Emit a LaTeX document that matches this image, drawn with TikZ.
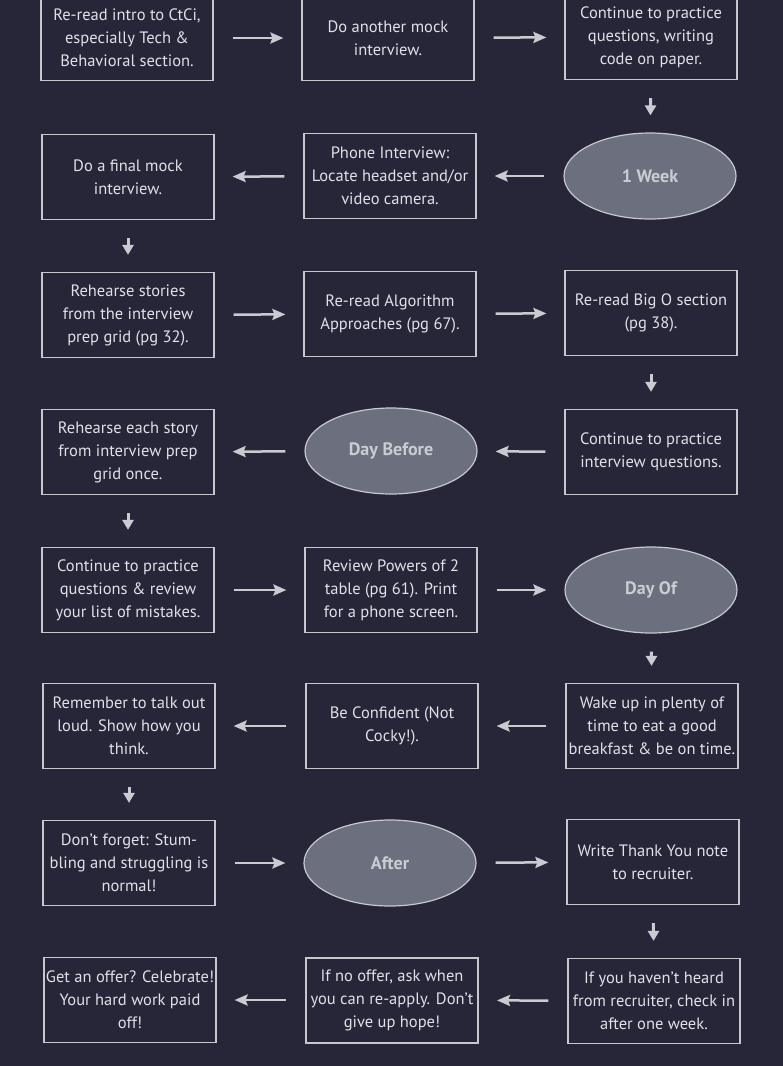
\documentclass[tikz,border=0pt]{standalone}
\usepackage{fontspec}
\setmainfont{PT Sans}
\usetikzlibrary{shapes.geometric,arrows.meta}
\definecolor{bg}{RGB}{38,38,56}
\definecolor{edge}{RGB}{196,201,206}
\definecolor{txt}{RGB}{222,226,230}
\definecolor{ellfill}{RGB}{108,112,126}
\definecolor{elltxt}{RGB}{200,205,210}
\definecolor{arr}{RGB}{200,204,208}
\tikzset{
  stepbox/.style={draw=edge, line width=1.2pt, rectangle, minimum width=172pt, minimum height=85pt, inner sep=0pt, align=center, text=txt, font=\fontsize{16.5}{23}\selectfont},
  phase/.style={draw=edge, line width=1.2pt, ellipse, fill=ellfill, minimum width=172pt, minimum height=86pt, inner sep=0pt, text=elltxt, font=\fontsize{18}{20}\selectfont\bfseries},
  harr/.style={draw=arr, line width=2.5pt, -{Stealth[length=13pt,width=11pt,inset=2pt]}, shorten <=19pt, shorten >=18pt},
  varr/.style={draw=arr, line width=3pt, -{Triangle[length=10pt,width=11pt]}, shorten <=18pt, shorten >=17pt}
}
\begin{document}
\begin{tikzpicture}[x=1pt,y=-1pt]
\useasboundingbox (0,0) rectangle (783,1066);
\fill[bg] (0,0) rectangle (783,1066);
% row 1
\node[stepbox] (a1) at (127,38) {Re-read intro to CtCi,\\especially Tech \&\\Behavioral section.};
\node[stepbox] (a2) at (388,38) {Do another mock\\interview.};
\node[stepbox] (a3) at (651,37) {Continue to practice\\questions, writing\\code on paper.};
% row 2
\node[stepbox] (b1) at (128,177) {Do a final mock\\interview.};
\node[stepbox] (b2) at (390,176) {Phone Interview:\\Locate headset and/or\\video camera.};
\node[phase] (b3) at (650,176) {1 Week};
% row 3
\node[stepbox] (c1) at (128,315) {Rehearse stories\\from the interview\\prep grid (pg 32).};
\node[stepbox] (c2) at (390,314) {Re-read Algorithm\\Approaches (pg 67).};
\node[stepbox] (c3) at (651,313) {Re-read Big O section\\(pg 38).};
% row 4
\node[stepbox] (d1) at (128,452) {Rehearse each story\\from interview prep\\grid once.};
\node[phase] (d2) at (391,451) {Day Before};
\node[stepbox] (d3) at (651,452) {Continue to practice\\interview questions.};
% row 5
\node[stepbox] (e1) at (128,590) {Continue to practice\\questions \& review\\your list of mistakes.};
\node[stepbox] (e2) at (391,590) {Review Powers of 2\\table (pg 61). Print\\for a phone screen.};
\node[phase] (e3) at (651,590) {Day Of};
% row 6
\node[stepbox] (f1) at (129,726) {Remember to talk out\\loud. Show how you\\think.};
\node[stepbox] (f2) at (392,726) {Be Confident (Not\\Cocky!).};
\node[stepbox] (f3) at (652,726) {Wake up in plenty of\\time to eat a good\\breakfast \& be on time.};
% row 7
\node[stepbox] (g1) at (129,863) {Don’t forget: Stum-\\bling and struggling is\\normal!};
\node[phase] (g2) at (390,863) {After};
\node[stepbox] (g3) at (653,862) {Write Thank You note\\to recruiter.};
% row 8
\node[stepbox] (h1) at (130,1000) {Get an offer? Celebrate!\\Your hard work paid\\off!};
\node[stepbox, line width=2pt] (h2) at (392,1000) {If no offer, ask when\\you can re-apply. Don’t\\give up hope!};
\node[stepbox] (h3) at (654,1001) {If you haven’t heard\\from recruiter, check in\\after one week.};
% horizontal arrows
\draw[harr] (a1) -- (a2);
\draw[harr] (a2) -- (a3);
\draw[harr] (b3) -- (b2);
\draw[harr] (b2) -- (b1);
\draw[harr] (c1) -- (c2);
\draw[harr] (c2) -- (c3);
\draw[harr] (d3) -- (d2);
\draw[harr] (d2) -- (d1);
\draw[harr] (e1) -- (e2);
\draw[harr] (e2) -- (e3);
\draw[harr] (f3) -- (f2);
\draw[harr] (f2) -- (f1);
\draw[harr] (g1) -- (g2);
\draw[harr] (g2) -- (g3);
\draw[harr] (h3) -- (h2);
\draw[harr] (h2) -- (h1);
% vertical arrows
\draw[varr] (a3) -- (b3);
\draw[varr] (b1) -- (c1);
\draw[varr] (c3) -- (d3);
\draw[varr] (d1) -- (e1);
\draw[varr] (e3) -- (f3);
\draw[varr] (f1) -- (g1);
\draw[varr] (g3) -- (h3);
\end{tikzpicture}
\end{document}
